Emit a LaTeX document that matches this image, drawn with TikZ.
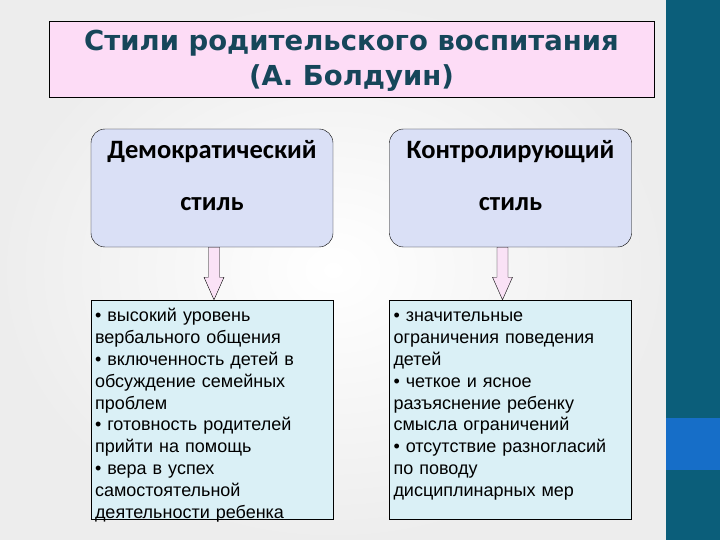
\documentclass[tikz,border=0pt]{standalone}
\usepackage{fontspec}
\setmainfont{Liberation Sans}
\newfontfamily\headfont{Carlito}
\newfontfamily\titlefont{DejaVu Sans}
\usetikzlibrary{calc}

\definecolor{titlepink}{RGB}{253,220,246}
\definecolor{titleink}{RGB}{22,70,90}
\definecolor{stylelav}{RGB}{218,224,246}
\definecolor{listcyan}{RGB}{218,240,246}
\definecolor{arrowpink}{RGB}{250,226,246}
\definecolor{barteal}{RGB}{11,94,122}
\definecolor{barblue}{RGB}{22,110,200}

\begin{document}
\begin{tikzpicture}[x=1pt, y=-1pt,
  stylebox/.style={draw=black, fill=stylelav, rounded corners=14pt, minimum width=242pt, minimum height=118pt, inner sep=0pt},
  styletext/.style={align=center, inner sep=0pt, font=\headfont\bfseries\fontsize{26.5}{52}\selectfont},
  listbox/.style={draw=black, fill=listcyan, minimum width=242pt, minimum height=219pt, inner sep=0pt},
  listtext/.style={anchor=base west, text width=238pt, align=left, inner sep=0pt, font=\fontsize{18}{21.8}\selectfont},
  blockarrow/.style={draw=black, fill=arrowpink, line width=0.4pt}]
  % background and side bar
  \useasboundingbox (0,0) rectangle (720,540);
  \shade[inner color=white, outer color=black!7] (0,0) rectangle (666,540);
  \fill[barteal] (666,0) rectangle (720,540);
  \fill[barblue] (666,418) rectangle (720,470);
  % title
  \node[draw=black, fill=titlepink, minimum width=605pt, minimum height=76pt, inner sep=0pt] (title) at (351.5,59) {};
  \node[text=titleink, align=center, font=\titlefont\bfseries\fontsize{27.5}{35}\selectfont] (titletext) at ($(title.center)+(0,2)$) {Стили родительского воспитания\\(А. Болдуин)};
  % style boxes
  \node[stylebox] (demo) at (212,188) {};
  \node[stylebox] (ctrl) at (510.5,188) {};
  \node[styletext] (demotext) at ($(demo.center)+(0,-12)$) {Демократический\\стиль};
  \node[styletext] (ctrltext) at ($(ctrl.center)+(0,-12)$) {Контролирующий\\стиль};
  % list boxes
  \node[listbox] (demolist) at (212,409.5) {};
  \node[listbox] (ctrllist) at (510.5,409.5) {};
  \node[listtext] (demoitems) at ($(demolist.north west)+(4,22)$) {• высокий уровень\\вербального общения\\• включенность детей в\\обсуждение семейных\\проблем\\• готовность родителей\\прийти на помощь\\• вера в успех\\самостоятельной\\деятельности ребенка};
  \node[listtext] (ctrlitems) at ($(ctrllist.north west)+(4,22)$) {• значительные\\ограничения поведения\\детей\\• четкое и ясное\\разъяснение ребенку\\смысла ограничений\\• отсутствие разногласий\\по поводу\\дисциплинарных мер};
  % arrows
  \coordinate (demoarr) at ($(demo.south)+(2,0)$);
  \coordinate (ctrlarr) at ($(ctrl.south)+(-8,0)$);
  \draw[blockarrow] ($(demoarr)+(-5.5,0)$) -- ($(demoarr)+(5.5,0)$) -- ($(demoarr)+(5.5,30)$) -- ($(demoarr)+(10,30)$) -- (demoarr |- demolist.north) -- ($(demoarr)+(-10,30)$) -- ($(demoarr)+(-5.5,30)$) -- cycle;
  \draw[blockarrow] ($(ctrlarr)+(-5.5,0)$) -- ($(ctrlarr)+(5.5,0)$) -- ($(ctrlarr)+(5.5,30)$) -- ($(ctrlarr)+(10,30)$) -- (ctrlarr |- ctrllist.north) -- ($(ctrlarr)+(-10,30)$) -- ($(ctrlarr)+(-5.5,30)$) -- cycle;
\end{tikzpicture}
\end{document}
